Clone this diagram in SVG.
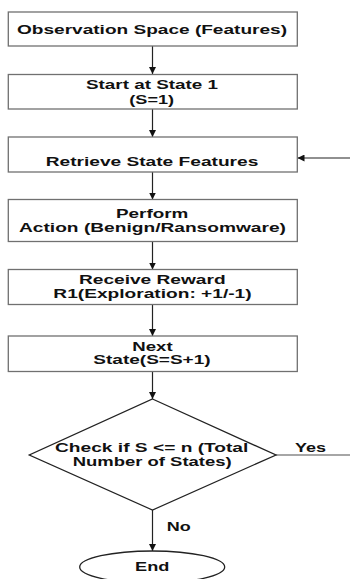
<svg xmlns="http://www.w3.org/2000/svg" width="350" height="579" viewBox="0 0 350 579">
<style>
.box{fill:#fff;stroke:#707070;stroke-width:1.3}
.dia{fill:#fff;stroke:#222;stroke-width:1.3}
.t{font-family:"Liberation Sans",Arial,sans-serif;font-weight:bold;font-size:12.5px;fill:#111;text-anchor:middle}
.c{stroke:#222;stroke-width:1.2;fill:none}
.cg{stroke:#888;stroke-width:1.3;fill:none}
</style>
<defs>
<marker id="ah" viewBox="0 0 10 10" refX="10" refY="5" markerWidth="7" markerHeight="7" markerUnits="userSpaceOnUse" orient="auto">
<path d="M0,0 L10,5 L0,10 z" fill="#111"/>
</marker>
</defs>
<rect width="350" height="579" fill="#fff"/>
<g id="connectors">
<line class="c" x1="152.5" y1="46" x2="152.5" y2="74" marker-end="url(#ah)"/>
<line class="c" x1="152.5" y1="109" x2="152.5" y2="137" marker-end="url(#ah)"/>
<line class="c" x1="152.5" y1="172" x2="152.5" y2="199.5" marker-end="url(#ah)"/>
<line class="c" x1="152.5" y1="241.5" x2="152.5" y2="269.5" marker-end="url(#ah)"/>
<line class="c" x1="152.5" y1="304.5" x2="152.5" y2="336" marker-end="url(#ah)"/>
<line class="c" x1="152.5" y1="371.5" x2="152.5" y2="399" marker-end="url(#ah)"/>
<line class="c" x1="152.5" y1="510" x2="152.5" y2="551" marker-end="url(#ah)"/>
<line class="cg" x1="276" y1="455" x2="350" y2="455"/>
<line class="c" x1="350" y1="158" x2="297.5" y2="158" marker-end="url(#ah)"/>
<text class="t" x="310.5" y="452.3" textLength="31" lengthAdjust="spacingAndGlyphs">Yes</text>
<text class="t" x="178.7" y="531" textLength="24" lengthAdjust="spacingAndGlyphs">No</text>
</g>
<g id="n1">
<rect class="box" x="8.3" y="12" width="289" height="34"/>
<text class="t" x="152" y="34" textLength="270" lengthAdjust="spacingAndGlyphs">Observation Space (Features)</text>
</g>
<g id="n2">
<rect class="box" x="8.3" y="74.5" width="289" height="34.5"/>
<text class="t" x="152" y="89.3" textLength="132" lengthAdjust="spacingAndGlyphs">Start at State 1</text>
<text class="t" x="151.7" y="104" textLength="44.7" lengthAdjust="spacingAndGlyphs">(S=1)</text>
</g>
<g id="n3">
<rect class="box" x="8.3" y="137" width="289" height="35"/>
<text class="t" x="152" y="166" textLength="212.6" lengthAdjust="spacingAndGlyphs">Retrieve State Features</text>
</g>
<g id="n4">
<rect class="box" x="8.3" y="199.5" width="289" height="42"/>
<text class="t" x="152.2" y="218.3" textLength="72.3" lengthAdjust="spacingAndGlyphs">Perform</text>
<text class="t" x="152.5" y="231.7" textLength="267" lengthAdjust="spacingAndGlyphs">Action (Benign/Ransomware)</text>
</g>
<g id="n5">
<rect class="box" x="8.3" y="269.5" width="289" height="35"/>
<text class="t" x="152.3" y="284.3" textLength="146.7" lengthAdjust="spacingAndGlyphs">Receive Reward</text>
<text class="t" x="152.5" y="298.3" textLength="198.3" lengthAdjust="spacingAndGlyphs">R1(Exploration: +1/-1)</text>
</g>
<g id="n6">
<rect class="box" x="8.3" y="336" width="289" height="35.5"/>
<text class="t" x="152.5" y="350.7" textLength="40.3" lengthAdjust="spacingAndGlyphs">Next</text>
<text class="t" x="152" y="364.3" textLength="117.3" lengthAdjust="spacingAndGlyphs">State(S=S+1)</text>
</g>
<g id="n7">
<polygon class="dia" points="152.5,399 276,455 152.5,510 29.3,455"/>
<text class="t" x="151.7" y="452.3" textLength="193.3" lengthAdjust="spacingAndGlyphs">Check if S &lt;= n (Total</text>
<text class="t" x="152.2" y="466" textLength="159" lengthAdjust="spacingAndGlyphs">Number of States)</text>
</g>
<g id="n8">
<ellipse class="dia" cx="152.2" cy="567" rx="72.5" ry="16"/>
<text class="t" x="152.2" y="571" textLength="34.3" lengthAdjust="spacingAndGlyphs">End</text>
</g>
</svg>
